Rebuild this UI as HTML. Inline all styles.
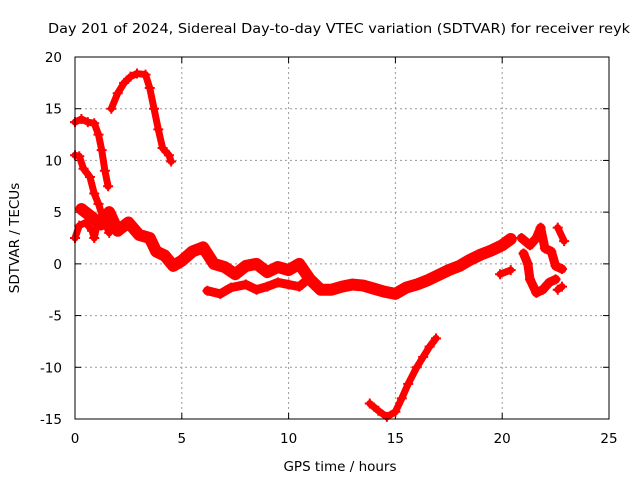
<!DOCTYPE html>
<html><head><meta charset="utf-8"><style>
body{margin:0;background:#fff}
svg{font-family:"DejaVu Sans","Liberation Sans",sans-serif;font-size:13.5px}
</style></head><body>
<svg id="chart" width="640" height="480">
<rect width="640" height="480" fill="#fff"/>
<text x="339" y="33" text-anchor="middle" textLength="582" lengthAdjust="spacingAndGlyphs">Day 201 of 2024, Sidereal Day-to-day VTEC variation (SDTVAR) for receiver reyk</text>
<text x="340" y="471" text-anchor="middle">GPS time / hours</text>
<text transform="translate(19,238) rotate(-90)" text-anchor="middle">SDTVAR / TECUs</text>
<g id="grid"></g><g id="ticks"></g><g id="marks"></g>
<rect x="75" y="57" width="534" height="362" fill="none" stroke="#000" stroke-width="1"/>
</svg>
<script>
const xTicks=[0,5,10,15,20,25];
const yTicks=[-15,-10,-5,0,5,10,15,20];
const segArc=[[1.7,15],[2,16.5],[2.3,17.5],[2.6,18.1],[2.9,18.4],[3.3,18.3],[3.5,17],[3.7,15],[3.9,13],[4.1,11.2],[4.4,10.5],[4.5,9.9]];
const segB=[[0,13.7],[0.3,14],[0.6,13.7],[0.9,13.6],[1.1,12.5],[1.25,11],[1.4,9],[1.55,7.5]];
const segC=[[0,10.5],[0.2,10.4],[0.4,9.2],[0.7,8.4],[0.9,6.8],[1.1,5.8],[1.3,4.5],[1.6,3]];
const segD=[[0,2.5],[0.2,3.7],[0.5,4],[0.8,3.2],[0.9,2.5],[1.0,3.5]];
const segMain=[[0.3,5.3],[0.8,4.5],[1.2,3.8],[1.6,5],[2,3.2],[2.5,4],[3,2.8],[3.5,2.5],[3.8,1.2],[4.2,0.8],[4.6,-0.2],[5,0.3],[5.5,1.2],[6,1.6],[6.5,0],[7,-0.3],[7.5,-1],[8,-0.2],[8.5,0],[9,-0.8],[9.5,-0.3],[10,-0.6],[10.5,0],[11,-1.5],[11.5,-2.5],[12,-2.5],[12.5,-2.2],[13,-2],[13.5,-2.1],[14,-2.4],[14.5,-2.7],[15,-2.9],[15.5,-2.3],[16,-2],[16.5,-1.6],[17,-1.1],[17.5,-0.6],[18,-0.2],[18.5,0.4],[19,0.9],[19.5,1.3],[20,1.8],[20.4,2.4]];
const segLow=[[6.2,-2.6],[6.8,-2.9],[7.3,-2.3],[8,-2],[8.5,-2.5],[9,-2.2],[9.5,-1.8],[10,-2],[10.5,-2.2],[10.9,-1.5]];
const segFrag=[[19.9,-1],[20.4,-0.6]];
const segRight1=[[20.9,2.5],[21.3,1.8],[21.6,2.5],[21.8,3.5],[22,1.5],[22.3,1.2],[22.5,-0.2],[22.8,-0.5]];
const segRight2=[[21,1],[21.2,0],[21.3,-1.5],[21.6,-2.8],[21.9,-2.5],[22.2,-1.8],[22.5,-1.5]];
const segRight3=[[22.6,3.5],[22.9,2.2]];
const segRight4=[[22.6,-2.5],[22.8,-2.2]];
const segDip=[[13.8,-13.5],[14.2,-14.2],[14.6,-14.8],[15,-14.3],[15.3,-13],[15.6,-11.6],[16,-10],[16.3,-9],[16.6,-8],[16.9,-7.2]];
const series=[segArc,segB,segC,segD,segMain,segLow,segFrag,segRight1,segRight2,segRight3,segRight4,segDip];
const widths=[7,7,7,7,12,9,7,9,9,7,7,7];
const X=v=>75+(v/25)*534, Y=v=>419-((v+15)/35)*362;
const NS="http://www.w3.org/2000/svg";
const g=document.getElementById('grid'),t=document.getElementById('ticks'),m=document.getElementById('marks');
function mk(tag,a,p){const e=document.createElementNS(NS,tag);for(const k in a)e.setAttribute(k,a[k]);p.appendChild(e);return e;}
xTicks.forEach(v=>{const x=X(v);
 if(v>0&&v<25){const l=mk('line',{x1:x,x2:x,y1:57,y2:419,stroke:'#999','stroke-dasharray':'2,3'},g);
 
 }
 mk('line',{x1:x,x2:x,y1:419,y2:413,stroke:'#000'},t);mk('line',{x1:x,x2:x,y1:57,y2:63,stroke:'#000'},t);
 const tx=mk('text',{x:x,y:443,'text-anchor':'middle'},t);tx.textContent=v;
 
 });
yTicks.forEach(v=>{const y=Y(v);
 if(v>-15&&v<20){const l=mk('line',{x1:75,x2:609,y1:y,y2:y,stroke:'#999','stroke-dasharray':'2,3'},g);
 
 }
 mk('line',{x1:75,x2:81,y1:y,y2:y,stroke:'#000'},t);mk('line',{x1:609,x2:603,y1:y,y2:y,stroke:'#000'},t);
 const tx=mk('text',{x:62,y:y+5,'text-anchor':'end'},t);tx.textContent=v;
 
 });
series.forEach((s,i)=>{
 const pl=mk('polyline',{points:s.map(p=>X(p[0])+','+Y(p[1])).join(' '),fill:'none',stroke:'#f00','stroke-width':widths[i],'stroke-linejoin':'round','stroke-linecap':'round'},m);
 
 
 s.forEach(p=>{const x=X(p[0]),y=Y(p[1]);
  const pt=mk('path',{d:`M${x-5},${y}h10M${x},${y-5}v10`,stroke:'#f00','stroke-width':2},m);
  
  });
});
</script>
</body></html>
